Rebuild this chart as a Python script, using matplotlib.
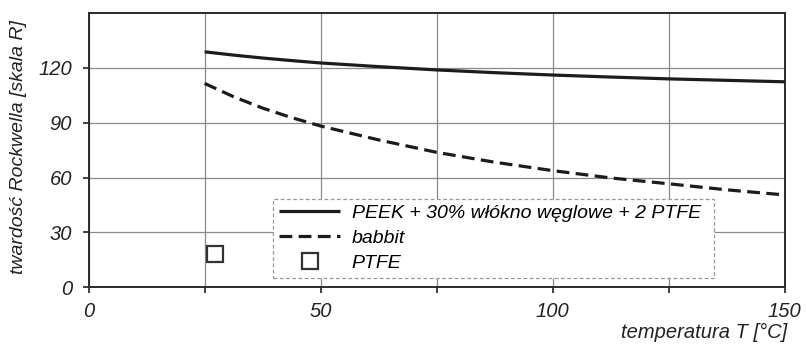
import matplotlib
matplotlib.use("Agg")
import matplotlib.pyplot as plt
from matplotlib.ticker import MultipleLocator

plt.rcParams['font.family'] = ['Liberation Sans', 'DejaVu Sans']
plt.rcParams['font.style'] = 'italic'

# data
temp = [25, 31.25, 37.5, 43.75, 50, 62.5, 75, 87.5, 100, 112.5, 125, 137.5, 150]
peek = [128.8, 127.0, 125.4, 124.0, 122.7, 120.7, 118.9, 117.4, 116.1, 115.0, 114.0, 113.2, 112.4]
babbit = [111.5, 104.2, 98.0, 92.8, 88.2, 80.6, 73.8, 68.4, 63.8, 59.8, 56.6, 53.3, 50.5]
ptfe_t = [27.3]
ptfe_h = [18.0]
labels = ["PEEK + 30% włókno węglowe + 2 PTFE", "babbit", "PTFE"]
xticks = [0, 50, 100, 150]
yticks = [0, 30, 60, 90, 120]

fig = plt.figure(figsize=(8.06, 3.44), dpi=100)
ax = fig.add_axes([0.110, 0.165, 0.8636, 0.797])

dark = '#1c1c1c'
ax.plot(temp, peek, color=dark, lw=2.3, solid_capstyle='butt', label=labels[0], zorder=3)
ax.plot(temp, babbit, color=dark, lw=2.3, dashes=(4, 2), label=labels[1], zorder=3)
ax.plot(ptfe_t, ptfe_h, linestyle='none', marker='s', markersize=11,
        markerfacecolor='white', markeredgecolor='#333333', markeredgewidth=1.6,
        label=labels[2], zorder=3)

ax.set_xlim(0, 150)
ax.set_ylim(0, 150)
ax.set_xticks(xticks)
ax.xaxis.set_minor_locator(MultipleLocator(25))
ax.set_yticks(yticks)
ax.grid(True, which='both', axis='x', color='#8a8a8a', lw=0.9, zorder=1)
ax.grid(True, which='major', axis='y', color='#8a8a8a', lw=0.9, zorder=1)
ax.set_axisbelow(True)

ax.tick_params(axis='both', which='both', direction='out', length=4, width=1.3,
               color='#333333', labelsize=14.5, labelcolor='#222222')
ax.tick_params(axis='x', pad=6.5)
ax.tick_params(axis='y', pad=8)
for s in ax.spines.values():
    s.set_color('#2a2a2a')
    s.set_linewidth(1.4)

ax.set_ylabel("twardość Rockwella [skala R]", fontsize=14, color='#222222')
ax.yaxis.set_label_coords(-0.088, 0.51)
ax.set_xlabel("temperatura T [°C]", fontsize=14.5, color='#222222')
ax.xaxis.set_label_coords(1.003, -0.13)
ax.xaxis.label.set_horizontalalignment('right')

leg = ax.legend(loc='lower left', bbox_to_anchor=(0.265, 0.034, 0.633, 0.294),
                mode='expand', fontsize=14, frameon=True, fancybox=False,
                handlelength=3.15, handletextpad=0.6, labelspacing=0.38,
                borderpad=0.3, borderaxespad=0)
fr = leg.get_frame()
fr.set_linestyle((0, (3, 2)))
fr.set_edgecolor('#999999')
fr.set_linewidth(0.9)
fr.set_alpha(1)
leg.set_zorder(5)

fig.savefig("out.png", dpi=100)
